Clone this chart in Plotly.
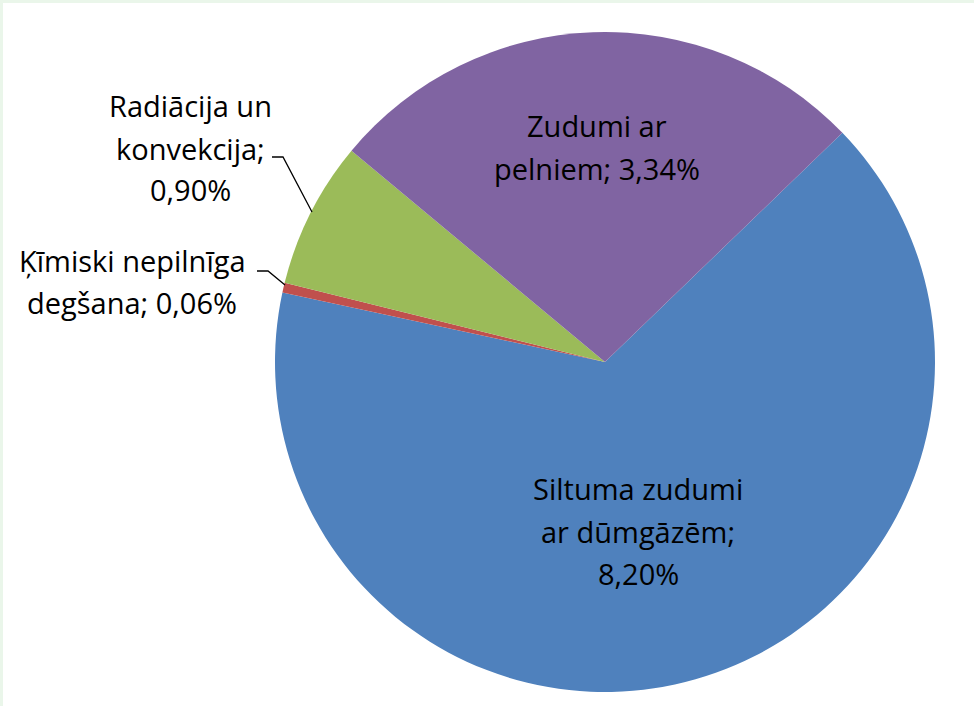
import plotly.graph_objects as go

W, H = 974, 706

labels = ["Siltuma zudumi ar dūmgāzēm", "Ķīmiski nepilnīga degšana",
          "Radiācija un konvekcija", "Zudumi ar pelniem"]
values = [8.20, 0.06, 0.90, 3.34]
label_texts = ["Siltuma zudumi<br>ar dūmgāzēm;<br>8,20%",
               "Ķīmiski nepilnīga<br>degšana; 0,06%",
               "Radiācija un<br>konvekcija;<br>0,90%",
               "Zudumi ar<br>pelniem; 3,34%"]
colors = ["#4F81BD", "#C0504D", "#9BBB59", "#8064A2"]

# label positions in pixels (center of text block)
label_pos = [(638, 531), (132, 281), (190, 148), (597, 147)]
LINE_GAP = 42

def px(x, y):
    return x / W, 1 - y / H

cx, cy, r = 605, 362, 330

fig = go.Figure()
fig.add_trace(go.Pie(
    labels=labels, values=values, sort=False, direction="clockwise",
    rotation=46, textinfo="none", hoverinfo="label+value",
    marker=dict(colors=colors, line=dict(width=0)),
    domain=dict(x=[(cx - r) / W, (cx + r) / W], y=[1 - (cy + r) / H, 1 - (cy - r) / H]),
    showlegend=False,
))

FONT = "Open Sans"
for t, (x, y) in zip(label_texts, label_pos):
    lines = t.split("<br>")
    n = len(lines)
    for i, ln in enumerate(lines):
        ly = y + (i - (n - 1) / 2) * LINE_GAP
        ax, ay = px(x, ly)
        fig.add_annotation(x=ax, y=ay, xref="paper", yref="paper", text=ln,
                           showarrow=False, align="center", xanchor="center", yanchor="middle",
                           font=dict(family=FONT, size=29, color="#000000"))

# leader lines
def leader(points):
    path = ""
    for i, (x, y) in enumerate(points):
        X, Y = px(x, y)
        path += ("M" if i == 0 else " L") + f"{X},{Y}"
    fig.add_shape(type="path", path=path, xref="paper", yref="paper",
                  line=dict(color="#000000", width=1.3))

leader([(272, 157), (283, 157), (312, 212)])
leader([(257, 271), (268, 271), (285, 285)])

# faint green frame on left/top
fig.add_shape(type="rect", xref="paper", yref="paper", x0=0, x1=3 / W, y0=0, y1=1,
              fillcolor="#EAF6EA", line=dict(width=0), layer="below")
fig.add_shape(type="rect", xref="paper", yref="paper", x0=0, x1=1, y0=1 - 3 / H, y1=1,
              fillcolor="#EAF6EA", line=dict(width=0), layer="below")

fig.update_layout(width=W, height=H, margin=dict(l=0, r=0, t=0, b=0),
                  paper_bgcolor="#FFFFFF", plot_bgcolor="#FFFFFF")

fig.write_html("out.html", config={"displayModeBar": False},
               post_script="document.body.style.margin='0';document.body.style.overflow='hidden';")
